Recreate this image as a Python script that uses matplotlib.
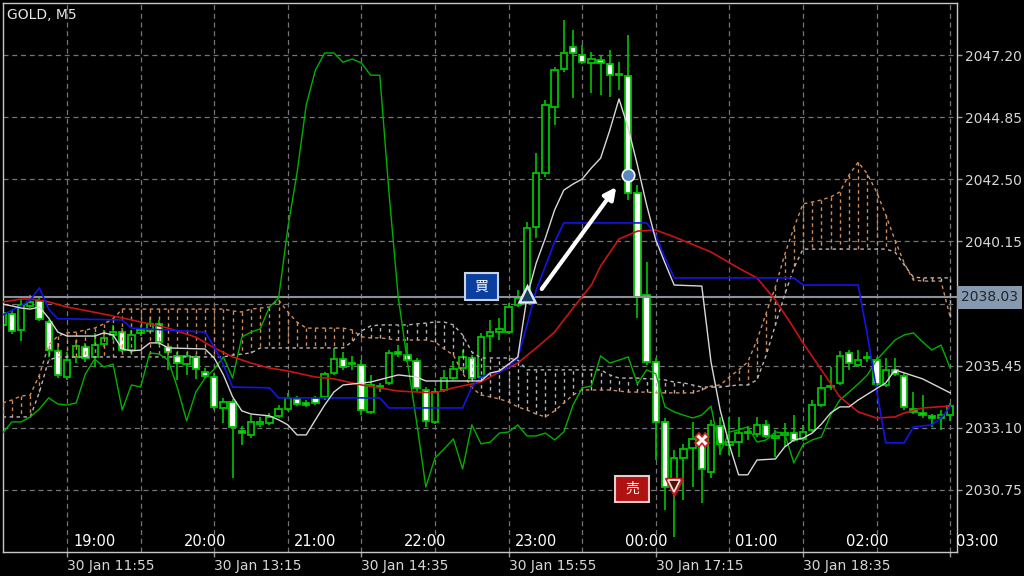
import numpy as np
import matplotlib
matplotlib.use('Agg')
import matplotlib.pyplot as plt
from matplotlib.patches import Rectangle

# bar index 0 = 30 Jan 11:55 (server time), 1 bar = 5 min
bars = np.arange(-7, 97)

opens = [2036.99, 2037.40, 2036.80, 2037.71, 2037.90, 2037.10, 2036.01, 2035.02, 2035.78, 2036.16,
         2035.78, 2036.27, 2036.61, 2036.72, 2036.04, 2036.69, 2036.76, 2037.03, 2036.16, 2035.82,
         2035.51, 2035.78, 2035.21, 2035.02, 2033.85, 2034.08, 2032.98, 2032.83, 2033.24, 2033.28,
         2033.55, 2033.81, 2034.19, 2034.04, 2034.23, 2034.27, 2035.17, 2035.70, 2035.55, 2035.48,
         2033.70, 2034.68, 2034.80, 2035.97, 2035.85, 2035.63, 2034.53, 2033.32, 2034.53, 2034.98,
         2035.36, 2035.74, 2035.02, 2036.57, 2036.72, 2036.72, 2037.75, 2038.12, 2040.70, 2042.74,
         2045.23, 2046.67, 2047.50, 2047.20, 2046.90, 2047.01, 2046.86, 2046.48, 2046.41, 2041.98,
         2038.12, 2035.59, 2033.32, 2030.86, 2031.96, 2032.34, 2032.64, 2031.43, 2033.17, 2032.45,
         2032.56, 2032.90, 2032.87, 2033.21, 2032.71, 2032.83, 2032.90, 2032.68, 2033.02, 2033.96,
         2034.64, 2034.80, 2035.93, 2035.48, 2035.74, 2035.66, 2034.72, 2035.29, 2035.06, 2033.81,
         2033.66, 2033.55, 2033.47, 2033.58]
highs = [2037.63, 2037.56, 2037.93, 2038.12, 2038.09, 2037.18, 2036.31, 2035.97, 2036.42, 2036.31,
         2036.69, 2036.80, 2036.99, 2036.87, 2036.80, 2036.99, 2037.29, 2037.18, 2036.31, 2035.97,
         2035.97, 2035.85, 2035.36, 2035.17, 2034.23, 2034.19, 2033.17, 2033.58, 2033.51, 2033.66,
         2033.96, 2034.42, 2034.30, 2034.15, 2034.30, 2035.21, 2036.12, 2035.97, 2035.82, 2035.66,
         2035.10, 2034.80, 2036.04, 2036.23, 2036.31, 2035.74, 2034.64, 2034.61, 2035.29, 2035.63,
         2036.04, 2035.85, 2036.69, 2037.18, 2037.25, 2037.82, 2038.31, 2040.88, 2043.49, 2045.50,
         2046.75, 2048.52, 2048.15, 2047.58, 2047.31, 2047.20, 2047.39, 2046.93, 2047.96, 2042.28,
         2039.37, 2035.74, 2033.47, 2032.26, 2032.49, 2033.32, 2032.79, 2033.40, 2033.51, 2033.51,
         2033.51, 2033.17, 2033.51, 2033.40, 2033.02, 2033.28, 2033.58, 2033.21, 2034.15, 2035.10,
         2035.40, 2036.01, 2036.04, 2036.04, 2035.97, 2035.78, 2035.74, 2035.74, 2035.17, 2034.45,
         2034.34, 2033.62, 2033.77, 2034.04]
lows = [2036.80, 2036.65, 2036.38, 2037.63, 2037.14, 2035.78, 2034.98, 2034.91, 2035.55, 2035.59,
        2035.40, 2036.16, 2036.42, 2035.97, 2035.93, 2036.57, 2036.69, 2036.23, 2035.29, 2034.91,
        2035.10, 2034.95, 2034.98, 2033.77, 2033.28, 2031.20, 2032.45, 2032.71, 2033.13, 2033.21,
        2033.47, 2033.74, 2033.92, 2033.89, 2033.96, 2034.15, 2035.10, 2035.29, 2035.29, 2033.58,
        2033.62, 2034.45, 2034.72, 2035.78, 2035.59, 2034.45, 2033.13, 2033.24, 2034.45, 2034.91,
        2035.29, 2034.91, 2034.95, 2035.97, 2036.42, 2036.65, 2037.67, 2038.05, 2040.28, 2042.59,
        2044.55, 2046.56, 2045.57, 2046.86, 2045.76, 2045.69, 2045.61, 2045.88, 2041.72, 2037.25,
        2035.48, 2031.88, 2029.99, 2028.97, 2030.37, 2030.86, 2030.26, 2031.20, 2032.07, 2032.07,
        2031.99, 2032.64, 2032.75, 2032.71, 2031.99, 2032.37, 2032.56, 2032.60, 2032.94, 2033.89,
        2034.53, 2034.72, 2035.29, 2035.40, 2035.59, 2034.68, 2034.64, 2035.06, 2033.77, 2033.62,
        2033.47, 2033.13, 2033.02, 2033.36]
closes = [2037.44, 2036.76, 2037.75, 2037.86, 2037.22, 2036.04, 2035.10, 2035.66, 2036.19, 2035.74,
          2036.23, 2036.50, 2036.72, 2036.04, 2036.61, 2036.80, 2037.03, 2036.35, 2035.97, 2035.55,
          2035.82, 2035.32, 2035.06, 2033.89, 2034.08, 2033.13, 2032.90, 2033.32, 2033.32, 2033.51,
          2033.81, 2034.23, 2034.00, 2033.96, 2034.04, 2035.14, 2035.70, 2035.40, 2035.51, 2033.77,
          2034.72, 2034.64, 2035.93, 2035.89, 2035.66, 2034.61, 2033.36, 2034.45, 2034.98, 2035.32,
          2035.78, 2034.98, 2036.53, 2036.72, 2036.84, 2037.67, 2038.01, 2040.66, 2042.74, 2045.31,
          2046.63, 2047.28, 2047.28, 2046.93, 2047.05, 2046.90, 2046.44, 2046.44, 2041.98, 2038.05,
          2035.59, 2033.32, 2030.86, 2031.96, 2032.30, 2032.68, 2031.54, 2033.21, 2032.49, 2032.56,
          2032.90, 2032.94, 2033.21, 2032.79, 2032.79, 2032.90, 2032.64, 2032.94, 2033.96, 2034.61,
          2034.68, 2035.82, 2035.55, 2035.66, 2035.78, 2034.76, 2035.29, 2035.14, 2033.89, 2033.70,
          2033.58, 2033.47, 2033.58, 2033.92]

# closes of the bars after the window (seen only through the chikou line)
future_close = [2032.18, 2032.94, 2033.02, 2033.13, 2032.56, 2032.64, 2032.94, 2032.90, 2031.77, 2032.45,
                2032.64, 2032.75, 2033.58, 2034.15, 2034.45, 2034.76, 2035.10, 2035.66, 2036.04, 2036.42,
                2036.61, 2036.69, 2036.35, 2036.04, 2036.23, 2035.36]

tenkan_x = [-7, -6, -5, -4, -3, -2, -1, 0, 3, 4, 5, 6, 7, 8, 9, 10, 11, 15, 16, 17,
            18, 19, 20, 22, 23, 24, 25, 26, 27, 28, 29, 30, 33, 36, 37, 38, 39, 45, 46, 47,
            48, 49, 50, 51, 52, 53, 54, 55, 56, 57, 58, 59, 60, 61, 62, 63, 64, 65, 66, 69,
            70, 71, 72, 73, 74, 75, 77, 78, 79, 80, 81, 82, 83, 84, 85, 86, 89, 90, 93, 96]
tenkan = [2037.78, 2037.71, 2037.63, 2037.59, 2037.67, 2037.25, 2036.72, 2036.57, 2036.57, 2036.69,
          2036.61, 2036.08, 2036.01, 2036.04, 2036.31, 2036.31, 2036.12, 2036.08, 2035.74, 2035.10,
          2034.27, 2033.74, 2033.62, 2033.55, 2033.40, 2033.21, 2032.83, 2032.83, 2033.40, 2033.96,
          2034.45, 2034.72, 2034.83, 2035.10, 2035.06, 2035.02, 2034.87, 2034.87, 2035.17, 2035.25,
          2035.51, 2035.78, 2038.05, 2039.33, 2040.28, 2041.34, 2042.09, 2042.32, 2042.51, 2042.93,
          2043.30, 2044.36, 2045.54, 2044.44, 2043.04, 2041.53, 2040.20, 2039.33, 2038.50, 2038.46,
          2035.59, 2033.77, 2032.45, 2031.32, 2031.32, 2031.88, 2031.92, 2032.37, 2032.64, 2032.71,
          2032.90, 2033.24, 2033.66, 2033.89, 2033.89, 2034.15, 2034.80, 2035.29, 2034.95, 2034.42]

kijun_x = [-7, -5, -4, -3, -2, -1, 0, 6, 7, 15, 16, 17, 18, 22, 23, 34, 35, 43, 44, 45,
           46, 47, 48, 49, 50, 51, 52, 53, 54, 63, 64, 65, 66, 79, 80, 86, 87, 88, 89, 91,
           92, 94, 95, 96]
kijun = [2037.37, 2037.71, 2037.93, 2038.39, 2037.59, 2037.22, 2037.22, 2037.18, 2036.87, 2036.72,
         2036.16, 2035.48, 2034.64, 2034.61, 2034.23, 2034.23, 2033.85, 2033.85, 2034.64, 2035.02,
         2035.17, 2035.21, 2035.40, 2035.74, 2036.99, 2038.31, 2039.22, 2040.13, 2040.85, 2040.85,
         2040.39, 2039.52, 2038.77, 2038.77, 2038.50, 2038.50, 2036.61, 2034.53, 2032.53, 2032.53,
         2033.13, 2033.21, 2033.47, 2033.89]

ma_x = [-7, -5, -4, -3, -2, 0, 4, 7, 11, 14, 16, 18, 20, 22, 24, 25, 27, 29, 32, 36,
        40, 42, 45, 47, 49, 51, 53, 55, 57, 58, 60, 62, 64, 66, 70, 73, 75, 77, 79, 80,
        82, 84, 86, 88, 90, 91, 93, 96]
ma = [2037.86, 2037.97, 2037.97, 2037.93, 2037.86, 2037.67, 2037.40, 2037.18, 2036.87, 2036.53,
      2036.12, 2035.78, 2035.55, 2035.36, 2035.25, 2035.17, 2035.02, 2034.95, 2034.72, 2034.49,
      2034.42, 2034.61, 2034.83, 2035.21, 2035.55, 2036.12, 2036.72, 2037.63, 2038.50, 2039.22,
      2040.24, 2040.54, 2040.58, 2040.32, 2039.75, 2039.14, 2038.77, 2037.93, 2036.87, 2036.31,
      2035.29, 2034.27, 2033.70, 2033.47, 2033.51, 2033.66, 2033.85, 2033.92]

span_a = [2034.04, 2034.15, 2034.30, 2034.34, 2035.10, 2036.23, 2036.57, 2036.69, 2036.72, 2036.80,
          2036.87, 2037.03, 2037.22, 2037.59, 2037.59, 2037.59, 2037.59, 2037.59, 2037.59, 2037.59,
          2037.59, 2037.59, 2037.59, 2037.59, 2037.59, 2037.52, 2037.48, 2037.59, 2037.63, 2037.67,
          2037.93, 2037.48, 2037.10, 2036.87, 2036.87, 2036.87, 2036.87, 2036.87, 2036.80, 2036.54,
          2036.50, 2036.50, 2036.46, 2036.42, 2036.42, 2036.42, 2036.42, 2036.35, 2036.08, 2035.85,
          2035.17, 2034.61, 2034.34, 2034.27, 2034.19, 2034.08, 2033.89, 2033.77, 2033.62, 2033.51,
          2033.74, 2034.04, 2034.34, 2034.53, 2034.53, 2034.53, 2034.53, 2034.49, 2034.45, 2034.45,
          2034.45, 2034.42, 2034.42, 2034.42, 2034.42, 2034.42, 2034.53, 2034.68, 2034.72, 2035.02,
          2035.29, 2035.59, 2036.42, 2037.44, 2038.43, 2039.64, 2040.66, 2041.57, 2041.64, 2041.72,
          2041.83, 2042.02, 2042.66, 2043.15, 2042.70, 2042.02, 2041.15, 2040.20, 2039.33, 2038.69,
          2038.65, 2038.65, 2038.65, 2037.29]
span_b = [2033.51, 2033.51, 2033.51, 2033.51, 2034.45, 2035.66, 2035.78, 2035.78, 2035.78, 2035.78,
          2035.78, 2035.78, 2035.78, 2035.78, 2035.78, 2035.78, 2035.78, 2035.78, 2035.78, 2035.78,
          2035.78, 2035.78, 2035.78, 2035.78, 2035.78, 2035.85, 2035.89, 2035.93, 2036.12, 2036.12,
          2036.12, 2036.12, 2036.12, 2036.12, 2036.12, 2036.12, 2036.12, 2036.12, 2036.35, 2036.76,
          2036.95, 2036.99, 2036.99, 2036.99, 2036.99, 2037.03, 2037.06, 2037.10, 2037.10, 2036.99,
          2036.61, 2035.97, 2035.74, 2035.74, 2035.74, 2035.74, 2035.66, 2035.29, 2035.29, 2035.29,
          2035.29, 2035.29, 2035.29, 2035.29, 2035.29, 2035.29, 2035.10, 2034.98, 2034.98, 2034.98,
          2034.95, 2034.95, 2034.91, 2034.83, 2034.80, 2034.72, 2034.64, 2034.64, 2034.64, 2034.68,
          2034.72, 2034.72, 2034.91, 2035.85, 2036.99, 2038.12, 2039.14, 2039.86, 2039.86, 2039.86,
          2039.86, 2039.86, 2039.86, 2039.86, 2039.86, 2039.86, 2039.86, 2039.75, 2039.26, 2038.80,
          2038.77, 2038.77, 2038.77, 2038.77]

price_ticks = [2030.75, 2033.10, 2035.45, 2037.80, 2040.15, 2042.50, 2044.85, 2047.20]
date_ticks = [0, 16, 32, 48, 64, 80, 96]
date_labels = ['30 Jan 11:55', '30 Jan 13:15', '30 Jan 14:35', '30 Jan 15:55',
               '30 Jan 17:15', '30 Jan 18:35', '']
hour_bars = [1, 13, 25, 37, 49, 61, 73, 85, 97]
hour_labels = ['19:00', '20:00', '21:00', '22:00', '23:00', '00:00', '01:00', '02:00', '03:00']
last_price = 2038.03

# trade marks
buy_bar, buy_price = 50, 2038.16
exit_bar, exit_price = 61, 2042.66
sell_bar, sell_price = 66, 2030.86
close_bar, close_price = 69, 2032.64

plt.rcParams['font.family'] = ['DejaVu Sans']
plt.rcParams['lines.dashed_pattern'] = [2.5, 2.5]

fig = plt.figure(figsize=(10.24, 5.76), dpi=100, facecolor='black')
ax = fig.add_axes([3/1024, 24/576, 954/1024, 549/576], facecolor='black')
ax.set_xlim(-6.96, 96.74)
ax.set_ylim(2028.40, 2049.17)

# grid
for g in range(0, 97, 8):
    ax.axvline(g, color='#747474', lw=0.9, ls=(0, (4, 3)), zorder=0)
for p in price_ticks:
    ax.axhline(p, color='#747474', lw=0.9, ls=(0, (4, 3)), zorder=0)

# candles
o = np.array(opens); h = np.array(highs); l = np.array(lows); c = np.array(closes)
up = c >= o
green = '#00c400'
ax.vlines(bars, l, h, color=green, lw=1.2, zorder=2)
body_lo = np.minimum(o, c)
body_h = np.maximum(np.abs(c - o), 0.03)
ax.bar(bars, body_h, bottom=body_lo, width=0.68, color=np.where(up, 'black', 'white'),
       edgecolor=green, linewidth=1.3, zorder=2.2)

# last price line
ax.axhline(last_price, color='#8b9099', lw=1.5, zorder=2.5)

# kumo
a = np.array(span_a); b = np.array(span_b)
sandy = '#d08d58'
thistle = '#bcb4bc'
ax.vlines(bars, a, b, colors=np.where(a >= b, sandy, thistle), lw=1, linestyles='dashed', zorder=3)
ax.plot(bars, a, color=sandy, lw=1, ls='--', zorder=3)
ax.plot(bars, b, color=thistle, lw=1, ls='--', zorder=3)

# ichimoku lines + MA
chikou = np.concatenate([c[26:], future_close])
ax.plot(bars, chikou, color='#00b000', lw=1, zorder=4)
ax.plot(ma_x, ma, color='#c81414', lw=1.2, zorder=4)
ax.plot(kijun_x, kijun, color='#1414e6', lw=1.2, zorder=4)
ax.plot(tenkan_x, tenkan, color='#d8d8d8', lw=1, zorder=4)

# trade annotations
ax.annotate('', xy=(59.7, 2042.21), xytext=(51.6, 2038.35),
            arrowprops=dict(arrowstyle='-|>,head_length=0.7,head_width=0.35', color='white',
                            lw=3, shrinkA=0, shrinkB=0), zorder=8)
ax.plot(buy_bar, buy_price, marker='^', ms=12, mfc='#173c5a', mec='#dfe8f5', mew=1.8, zorder=9)
ax.plot(exit_bar, exit_price, marker='o', ms=9, mfc='#5b86c0', mec='white', mew=1.2, zorder=9)
ax.plot(sell_bar, sell_price, marker='v', ms=13, color='#c41a1a', zorder=9)
ax.plot(sell_bar, sell_price + 0.05, marker='v', ms=8.5, mfc='#4a1408', mec='#f2e6e6', mew=1.2, zorder=9)
ax.plot(close_bar, close_price, marker='X', ms=10, mfc='white', mec='#d02020', mew=1.2, zorder=9)

ax.add_patch(Rectangle((43.26, 2037.93), 3.59, 1.02, fc='#0b3f9f', ec='#c9d3e6', lw=1.5, zorder=8))
ax.text(45.05, 2038.44, '買', family=['Noto Sans CJK JP'], color='white', fontsize=10,
        ha='center', va='center', zorder=9)
ax.add_patch(Rectangle((59.55, 2030.30), 3.7, 0.98, fc='#b01212', ec='#e6cccc', lw=1.5, zorder=8))
ax.text(61.4, 2030.79, '売', family=['Noto Sans CJK JP'], color='white', fontsize=10,
        ha='center', va='center', zorder=9)

# axes styling
for s in ax.spines.values():
    s.set_color('#c8c8c8')
    s.set_linewidth(1)
ax.yaxis.tick_right()
ax.set_yticks(price_ticks)
ax.set_yticklabels(['%.2f' % p for p in price_ticks])
ax.set_xticks(date_ticks)
ax.set_xticklabels(date_labels, ha='left')
ax.tick_params(axis='both', colors='#9a9a9a', labelcolor='#d6d6d6', labelsize=10,
               length=3.5, width=1)
ax.tick_params(axis='y', pad=2)
ax.tick_params(axis='x', pad=1.5)

for hb, lab in zip(hour_bars, hour_labels):
    ax.text(hb - 0.35, 0.02, lab, transform=ax.get_xaxis_transform(), ha='left', va='center',
            color='white', fontsize=10.5, clip_on=False, zorder=9)

ax.text(1.004, last_price, '%.2f' % last_price, transform=ax.get_yaxis_transform(),
        ha='left', va='center', fontsize=10, color='#1e2630', clip_on=False, zorder=10,
        bbox=dict(boxstyle='square,pad=0.3', fc='#8799ae', ec='none'))
ax.text(0.004, 0.978, 'GOLD, M5', transform=ax.transAxes, color='#e6e6e6', fontsize=10,
        va='center', ha='left', zorder=9)

fig.savefig('out.png', dpi=100, facecolor='black')
